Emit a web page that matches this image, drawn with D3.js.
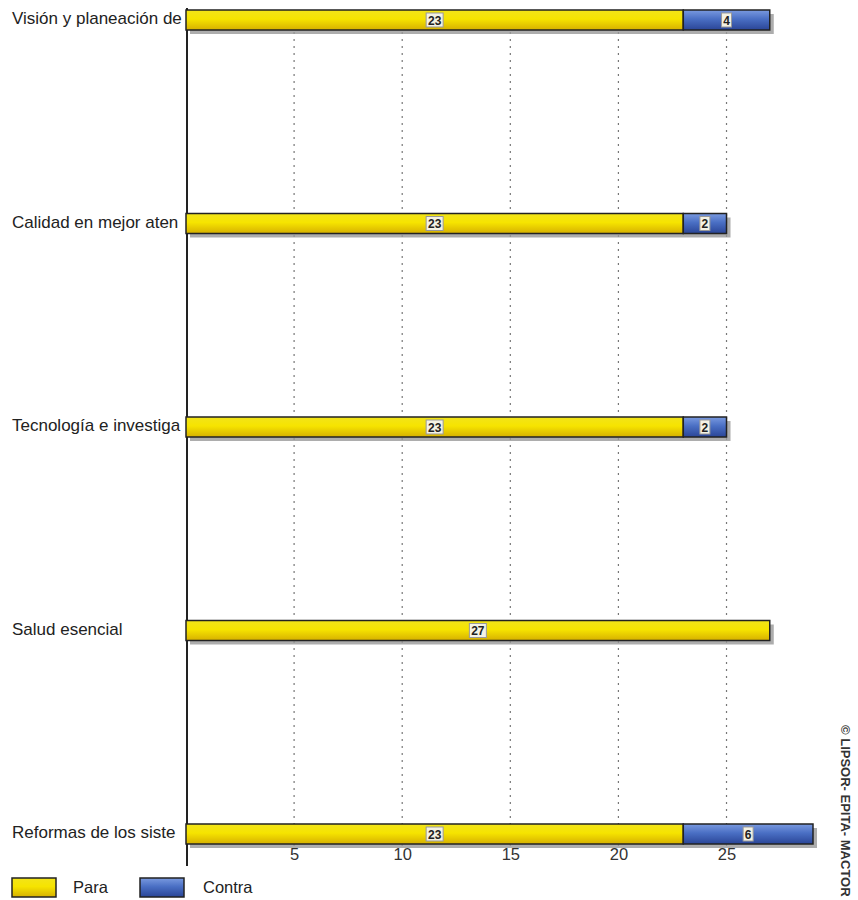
<!DOCTYPE html>
<html><head><meta charset="utf-8">
<script src="https://cdn.jsdelivr.net/npm/d3@7"></script>
<style>body{margin:0;background:#fff}svg{display:block}</style>
</head><body>
<script>
const categories = ["Visión y planeación de", "Calidad en mejor aten", "Tecnología e investiga", "Salud esencial", "Reformas de los siste"];
const para = [23, 23, 23, 27, 23];
const contra = [4, 2, 2, 0, 6];
const tickValues = [5, 10, 15, 20, 25];
const seriesNames = ["Para", "Contra"];

const W = 858, H = 900;
const FONT = "Liberation Sans, Arial, sans-serif";
const svg = d3.select("body").append("svg").attr("width", W).attr("height", H);
const defs = svg.append("defs");
const gy = defs.append("linearGradient").attr("id","gy").attr("x1",0).attr("y1",0).attr("x2",0).attr("y2",1);
gy.append("stop").attr("offset","0%").attr("stop-color","#f2e41a");
gy.append("stop").attr("offset","45%").attr("stop-color","#f6e400");
gy.append("stop").attr("offset","100%").attr("stop-color","#d6b000");
const gb = defs.append("linearGradient").attr("id","gb").attr("x1",0).attr("y1",0).attr("x2",0).attr("y2",1);
gb.append("stop").attr("offset","0%").attr("stop-color","#7a9ae0");
gb.append("stop").attr("offset","45%").attr("stop-color","#4a6fc4");
gb.append("stop").attr("offset","100%").attr("stop-color","#2a4597");
const fills = ["url(#gy)", "url(#gb)"];

const x = d3.scaleLinear().domain([0, 29]).range([186, 813]);
const y = d3.scalePoint().domain(categories).range([20, 834]);
const barH = 20;

// gridlines
svg.append("g").selectAll("line").data(tickValues).join("line")
  .attr("x1", d => x(d)).attr("x2", d => x(d))
  .attr("y1", 32).attr("y2", 848)
  .attr("stroke", "#777").attr("stroke-width", 1.2).attr("stroke-dasharray", "2,5");

// axis tick labels
const axis = d3.axisBottom(x).tickValues(tickValues).tickSize(0).tickPadding(0);
const ag = svg.append("g").attr("transform", "translate(0,848)").call(axis);
ag.select(".domain").remove();
ag.selectAll("text").attr("font-family", FONT)
  .attr("font-size", 16.5).attr("fill", "#333").attr("dy", "0.75em");

// vertical axis line
svg.append("line").attr("x1", 187).attr("x2", 187).attr("y1", 8).attr("y2", 866)
  .attr("stroke", "#222").attr("stroke-width", 2);

// bars
const rows = categories.map((c, i) => ({c, vals: [para[i], contra[i]]}));
const bars = svg.append("g");
rows.forEach(r => {
  const total = r.vals[0] + r.vals[1];
  bars.append("rect").attr("x", x(0) + 4).attr("y", y(r.c) - barH/2 + 4)
    .attr("width", x(total) - x(0)).attr("height", barH)
    .attr("fill", "#999").attr("opacity", 0.8);
  let acc = 0;
  r.vals.forEach((v, k) => {
    if (v <= 0) return;
    bars.append("rect").attr("x", x(acc)).attr("y", y(r.c) - barH/2)
      .attr("width", x(acc + v) - x(acc)).attr("height", barH)
      .attr("fill", fills[k]).attr("stroke", "#222").attr("stroke-width", 1.5);
    const cx = (x(acc) + x(acc + v)) / 2;
    const s = String(v);
    const bw = s.length * 7 + 3;
    bars.append("rect").attr("x", cx - bw/2).attr("y", y(r.c) - 7).attr("width", bw).attr("height", 14)
      .attr("fill", "#f4f2e4").attr("stroke", "#999").attr("stroke-width", 1);
    bars.append("text").attr("x", cx).attr("y", y(r.c) + 4.5).attr("text-anchor", "middle")
      .attr("font-family", FONT).attr("font-size", 12)
      .attr("font-weight", "bold").attr("fill", "#222").text(s);
    acc += v;
  });
});

// category labels
svg.append("g").selectAll("text").data(categories).join("text")
  .attr("x", 12).attr("y", d => y(d) + 4)
  .attr("font-family", FONT).attr("font-size", 17)
  .attr("fill", "#222").text(d => d);

// legend
const lg = svg.append("g");
const lx = [12, 140], tx = [73, 203];
seriesNames.forEach((n, k) => {
  lg.append("rect").attr("x", lx[k]).attr("y", 878).attr("width", 44).attr("height", 19)
    .attr("fill", fills[k]).attr("stroke", "#222").attr("stroke-width", 1.5);
  lg.append("text").attr("x", tx[k]).attr("y", 893)
    .attr("font-family", FONT).attr("font-size", 16.5)
    .attr("fill", "#222").text(n);
});

// watermark
svg.append("text").attr("transform", "translate(841,725) rotate(90)")
  .attr("font-family", FONT).attr("font-size", 13)
  .attr("font-weight", "bold").attr("fill", "#333").text("© LIPSOR- EPITA- MACTOR");
</script>
</body></html>
